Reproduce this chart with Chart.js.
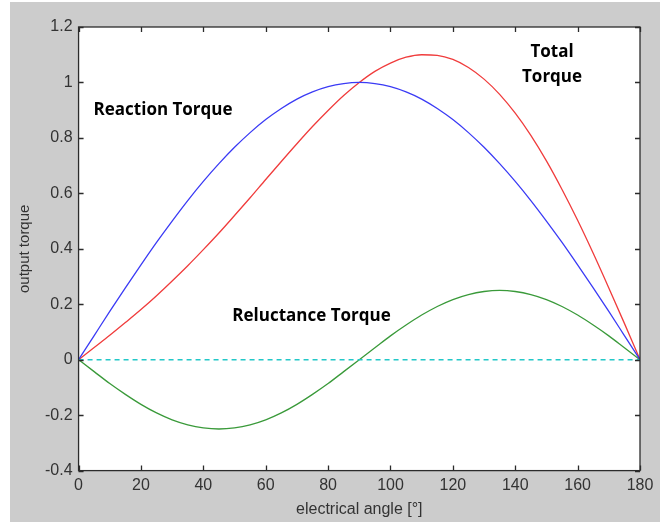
<!DOCTYPE html>
<html>
<head>
<meta charset="utf-8">
<script src="https://cdn.jsdelivr.net/npm/chart.js@4"></script>
<style>
  html, body { margin: 0; padding: 0; background: #fff; }
  canvas { display: block; }
</style>
</head>
<body>
<canvas id="torqueChart" width="660" height="522"></canvas>
<script>
// electrical angle in degrees, read every 5 deg
const angles = [0,5,10,15,20,25,30,35,40,45,50,55,60,65,70,75,80,85,90,
  95,100,105,110,115,120,125,130,135,140,145,150,155,160,165,170,175,180];

const reactionTorque = [0,0.087,0.174,0.259,0.342,0.423,0.5,0.574,0.643,0.707,0.766,0.819,0.866,0.906,0.94,0.966,0.985,0.996,1,
  0.996,0.985,0.966,0.94,0.906,0.866,0.819,0.766,0.707,0.643,0.574,0.5,0.423,0.342,0.259,0.174,0.087,0];

const reluctanceTorque = [0,-0.043,-0.086,-0.125,-0.161,-0.192,-0.217,-0.235,-0.246,-0.25,-0.246,-0.235,-0.217,-0.192,-0.161,-0.125,-0.086,-0.043,0,
  0.043,0.086,0.125,0.161,0.192,0.217,0.235,0.246,0.25,0.246,0.235,0.217,0.192,0.161,0.125,0.086,0.043,0];

const totalTorque = [0,0.044,0.088,0.134,0.181,0.231,0.284,0.339,0.397,0.457,0.52,0.584,0.65,0.715,0.779,0.841,0.899,0.953,1,
  1.04,1.07,1.091,1.1,1.098,1.083,1.054,1.012,0.957,0.889,0.809,0.717,0.614,0.503,0.384,0.259,0.131,0];

const zeroLineX = [0, 180];
const zeroLineY = [0, 0];

const xTicks = [0,20,40,60,80,100,120,140,160,180];
const yTicks = [-0.4,-0.2,0,0.2,0.4,0.6,0.8,1,1.2];

// text labels placed in data units
const labels = [
  { text: 'Reaction Torque', x: 4.8, y: 0.9, align: 'left' },
  { text: 'Total', x: 151.8, y: 1.11, align: 'center' },
  { text: 'Torque', x: 151.8, y: 1.019, align: 'center' },
  { text: 'Reluctance Torque', x: 49.3, y: 0.157, align: 'left' }
];

const toPts = (xs, ys) => xs.map((x, i) => ({ x, y: ys[i] }));

const frame = {
  id: 'frame',
  beforeDraw(chart) {
    const { ctx, chartArea: a } = chart;
    ctx.save();
    ctx.fillStyle = '#ffffff';
    ctx.fillRect(0, 0, chart.width, chart.height);
    ctx.fillStyle = '#cccccc';
    ctx.fillRect(10, 2, chart.width - 10, chart.height - 2);
    ctx.fillStyle = '#ffffff';
    ctx.fillRect(a.left, a.top, a.right - a.left, a.bottom - a.top);
    ctx.restore();
  },
  afterDraw(chart) {
    const { ctx, chartArea: a, scales } = chart;
    ctx.save();
    ctx.strokeStyle = '#2b2b2b';
    ctx.lineWidth = 1.3;
    ctx.strokeRect(a.left, a.top, a.right - a.left, a.bottom - a.top);
    ctx.beginPath();
    const len = 5;
    xTicks.forEach(v => {
      const px = Math.round(scales.x.getPixelForValue(v)) + 0.5;
      ctx.moveTo(px, a.bottom); ctx.lineTo(px, a.bottom - len);
      ctx.moveTo(px, a.top); ctx.lineTo(px, a.top + len);
    });
    yTicks.forEach(v => {
      const py = Math.round(scales.y.getPixelForValue(v)) + 0.5;
      ctx.moveTo(a.left, py); ctx.lineTo(a.left + len, py);
      ctx.moveTo(a.right, py); ctx.lineTo(a.right - len, py);
    });
    ctx.stroke();

    ctx.fillStyle = '#000';
    ctx.font = 'bold 17px "Open Sans", sans-serif';
    ctx.textBaseline = 'middle';
    labels.forEach(l => {
      ctx.textAlign = l.align;
      ctx.fillText(l.text, scales.x.getPixelForValue(l.x), scales.y.getPixelForValue(l.y));
    });
    ctx.restore();
  }
};

new Chart(document.getElementById('torqueChart'), {
  type: 'line',
  data: {
    datasets: [
      { label: 'zero', data: toPts(zeroLineX, zeroLineY), borderColor: '#22c8c8', borderWidth: 1.6, borderDash: [5, 4] },
      { label: 'Reaction Torque', data: toPts(angles, reactionTorque), borderColor: '#3b3bf5', borderWidth: 1.3 },
      { label: 'Total Torque', data: toPts(angles, totalTorque), borderColor: '#f03c3c', borderWidth: 1.3 },
      { label: 'Reluctance Torque', data: toPts(angles, reluctanceTorque), borderColor: '#3a9a3a', borderWidth: 1.3 }
    ]
  },
  options: {
    responsive: false,
    animation: false,
    parsing: false,
    elements: { point: { radius: 0 }, line: { tension: 0.4, cubicInterpolationMode: 'monotone' } },
    layout: { padding: { left: 0, right: 20, top: 27, bottom: 0 } },
    plugins: { legend: { display: false }, tooltip: { enabled: false } },
    scales: {
      x: {
        type: 'linear', min: 0, max: 180,
        afterBuildTicks: s => { s.ticks = xTicks.map(v => ({ value: v })); },
        grid: { display: false, drawTicks: false },
        border: { display: false },
        ticks: { color: '#333', font: { family: '"Liberation Sans", Arial', size: 16 }, padding: 5, maxRotation: 0 },
        title: { display: true, text: 'electrical angle [°]', color: '#333', font: { family: '"Liberation Sans", Arial', size: 16 }, padding: { top: 0, bottom: 3 } }
      },
      y: {
        min: -0.4, max: 1.2,
        afterBuildTicks: s => { s.ticks = yTicks.map(v => ({ value: v })); },
        grid: { display: false, drawTicks: false },
        border: { display: false },
        ticks: { color: '#333', font: { family: '"Liberation Sans", Arial', size: 16 }, padding: 6,
          callback: v => String(Math.round(v * 10) / 10) },
        title: { display: true, text: 'output torque', color: '#333', font: { family: '"Liberation Sans", Arial', size: 15 }, padding: { top: 16, bottom: 5 } }
      }
    }
  },
  plugins: [frame]
});
</script>
</body>
</html>
